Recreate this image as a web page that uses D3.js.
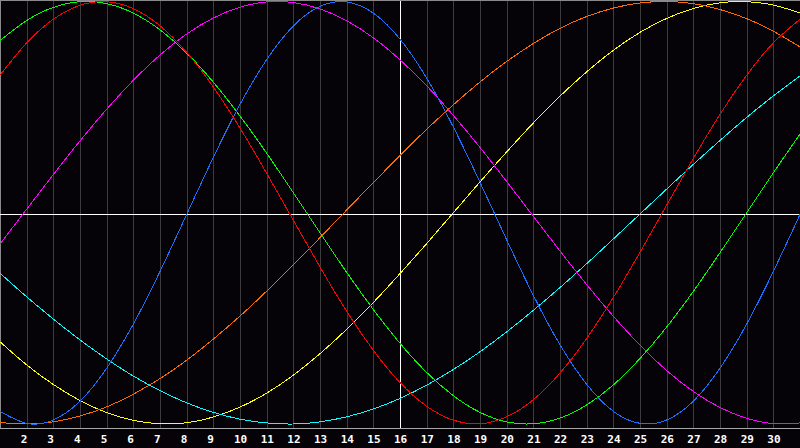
<!DOCTYPE html>
<html>
<head>
<meta charset="utf-8">
<script src="https://cdn.jsdelivr.net/npm/d3@7"></script>
<style>
  html, body { margin: 0; padding: 0; background: #050308; }
  svg { display: block; }
</style>
</head>
<body>
<svg id="chart" width="800" height="448"></svg>
<script>
// Days shown on the x axis
const days = d3.range(1, 32);
const tickLabels = d3.range(2, 31).map(String);

// Series values (one value per day, -1..1)
const redValues = [0.651,0.804,0.916,0.982,0.999,0.966,0.885,0.759,0.595,0.401,0.187,-0.036,-0.257,-0.466,-0.651,-0.804,-0.916,-0.982,-0.999,-0.966,-0.885,-0.759,-0.595,-0.401,-0.187,0.036,0.257,0.466,0.651,0.804,0.916];
const greenValues = [0.815,0.910,0.972,0.999,0.990,0.945,0.866,0.756,0.618,0.458,0.282,0.095,-0.095,-0.282,-0.458,-0.618,-0.756,-0.866,-0.945,-0.990,-0.999,-0.972,-0.910,-0.815,-0.690,-0.541,-0.372,-0.189,0.000,0.189,0.372];
const blueValues = [-0.940,-0.997,-0.981,-0.892,-0.736,-0.527,-0.278,-0.008,0.262,0.513,0.725,0.884,0.977,0.998,0.945,0.822,0.637,0.406,0.144,-0.128,-0.391,-0.625,-0.812,-0.940,-0.997,-0.981,-0.892,-0.736,-0.527,-0.278,-0.008];
const magentaValues = [-0.148,0.017,0.181,0.340,0.490,0.627,0.747,0.846,0.922,0.973,0.998,0.995,0.965,0.909,0.828,0.724,0.601,0.461,0.309,0.148,-0.017,-0.181,-0.340,-0.490,-0.627,-0.747,-0.846,-0.922,-0.973,-0.998,-0.995];
const orangeValues = [-0.993,-1.000,-0.990,-0.962,-0.919,-0.859,-0.785,-0.698,-0.598,-0.489,-0.371,-0.246,-0.118,0.013,0.143,0.271,0.395,0.511,0.619,0.716,0.801,0.873,0.929,0.969,0.993,1.000,0.990,0.962,0.919,0.859,0.785];
const yellowValues = [-0.611,-0.720,-0.813,-0.889,-0.946,-0.983,-0.999,-0.994,-0.967,-0.920,-0.854,-0.769,-0.667,-0.552,-0.425,-0.288,-0.146,0.000,0.146,0.288,0.425,0.552,0.667,0.769,0.854,0.920,0.967,0.994,0.999,0.983,0.946];
const cyanValues = [-0.286,-0.398,-0.503,-0.602,-0.692,-0.773,-0.842,-0.900,-0.945,-0.977,-0.995,-1.000,-0.990,-0.966,-0.929,-0.879,-0.816,-0.742,-0.658,-0.564,-0.462,-0.354,-0.241,-0.124,-0.006,0.112,0.229,0.342,0.451,0.553,0.648];

const series = [
  { name: "yellow",  color: "#ffff00", values: yellowValues },
  { name: "orange",  color: "#ff6a00", values: orangeValues },
  { name: "cyan",    color: "#00ffff", values: cyanValues },
  { name: "magenta", color: "#ff00ff", values: magentaValues },
  { name: "green",   color: "#00ff00", values: greenValues },
  { name: "blue",    color: "#1a6fff", values: blueValues },
  { name: "red",     color: "#ff0000", values: redValues }
];

const W = 800, plotBottom = 428;
const svg = d3.select("#chart");

const x = d3.scaleLinear().domain([1, 31]).range([0, W]);
const y = d3.scaleLinear().domain([-1, 1]).range([424, 1.5]);

// background
svg.append("rect").attr("x", 0).attr("y", 0).attr("width", W).attr("height", 448).attr("fill", "#050308");

// vertical day grid lines
svg.append("g").selectAll("line")
  .data(d3.range(2, 31))
  .join("line")
  .attr("x1", d => Math.round(x(d)) + 0.5)
  .attr("x2", d => Math.round(x(d)) + 0.5)
  .attr("y1", 0).attr("y2", plotBottom)
  .attr("stroke", d => d === 16 ? "#ffffff" : "#3c3c3c")
  .attr("stroke-width", 1)
  .attr("shape-rendering", "crispEdges");

// top and left borders
svg.append("line").attr("x1", 0).attr("x2", W).attr("y1", 0.5).attr("y2", 0.5)
  .attr("stroke", "#8a8a8a").attr("shape-rendering", "crispEdges");
svg.append("line").attr("x1", 0.5).attr("x2", 0.5).attr("y1", 0).attr("y2", plotBottom)
  .attr("stroke", "#8a8a8a").attr("shape-rendering", "crispEdges");

// horizontal zero line
svg.append("line")
  .attr("x1", 0).attr("x2", W)
  .attr("y1", Math.round(y(0)) + 1.5).attr("y2", Math.round(y(0)) + 1.5)
  .attr("stroke", "#ffffff").attr("shape-rendering", "crispEdges");

// bottom axis line
svg.append("line").attr("x1", 0).attr("x2", W).attr("y1", plotBottom + 0.5).attr("y2", plotBottom + 0.5)
  .attr("stroke", "#a8a8a8").attr("shape-rendering", "crispEdges");

// curves
const line = d3.line()
  .x((d, i) => x(days[i]))
  .y(d => y(d))
  .curve(d3.curveNatural);

svg.append("g").selectAll("path")
  .data(series)
  .join("path")
  .attr("d", s => line(s.values))
  .attr("fill", "none")
  .attr("stroke", s => s.color)
  .attr("stroke-width", 1)
  .attr("shape-rendering", "crispEdges");

// tick labels
svg.append("g").selectAll("text")
  .data(tickLabels)
  .join("text")
  .attr("x", d => x(+d) - 6)
  .attr("y", 443)
  .attr("fill", "#ffffff")
  .attr("font-family", "'DejaVu Sans Mono', monospace")
  .attr("font-weight", "bold")
  .attr("font-size", "11px")
  .text(d => d);
</script>
</body>
</html>
